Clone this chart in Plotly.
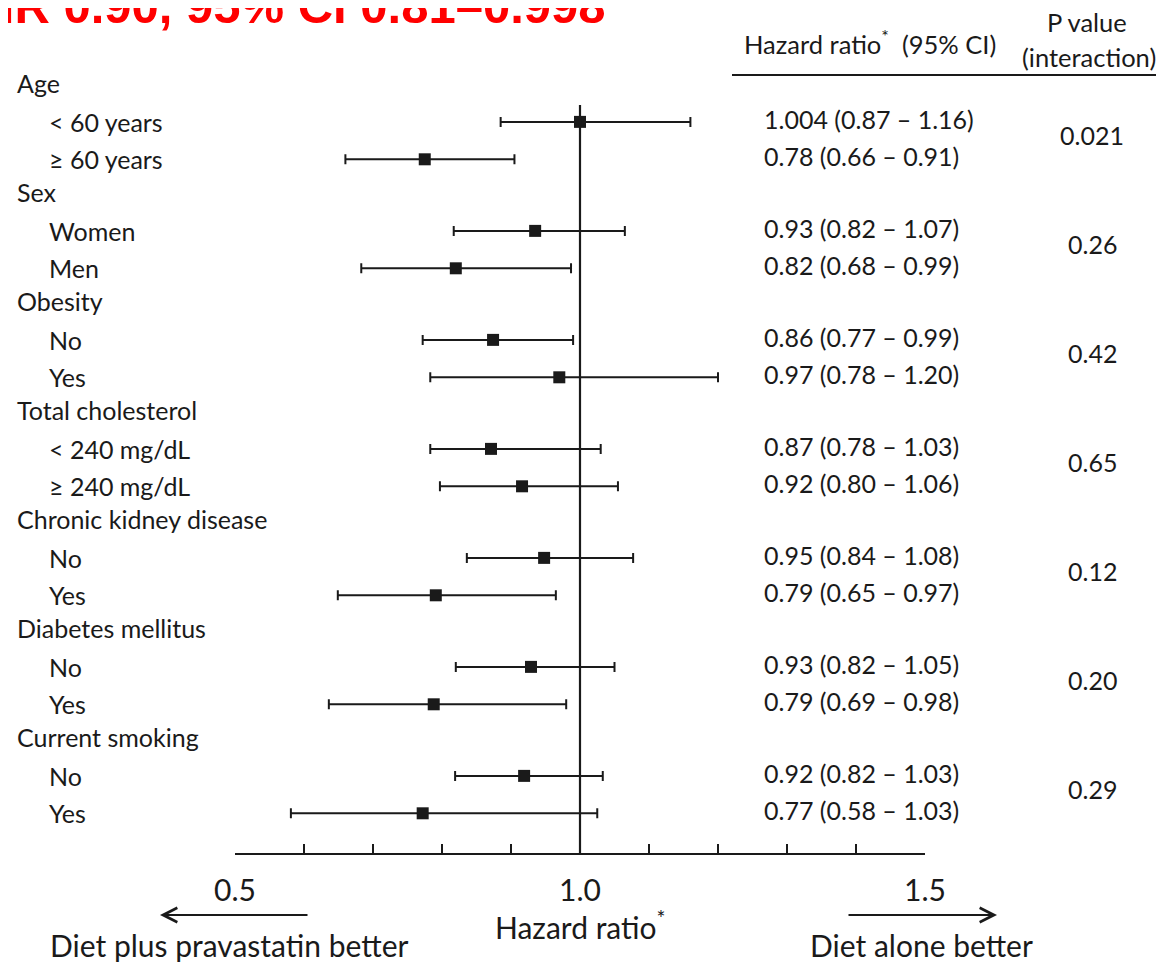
import plotly.graph_objects as go

# ---------------- data ----------------
groups = ["Age", "Sex", "Obesity", "Total cholesterol",
          "Chronic kidney disease", "Diabetes mellitus", "Current smoking"]
subgroups = [["< 60 years", "\u2265 60 years"],
             ["Women", "Men"],
             ["No", "Yes"],
             ["< 240 mg/dL", "\u2265 240 mg/dL"],
             ["No", "Yes"],
             ["No", "Yes"],
             ["No", "Yes"]]
hr = [1.00, 0.775, 0.935, 0.82, 0.874, 0.97, 0.871, 0.916,
      0.948, 0.791, 0.929, 0.788, 0.919, 0.772]
ci_lo = [0.885, 0.66, 0.817, 0.683, 0.772, 0.783, 0.783, 0.797,
         0.836, 0.649, 0.82, 0.636, 0.819, 0.581]
ci_hi = [1.16, 0.905, 1.065, 0.987, 0.99, 1.20, 1.03, 1.055,
         1.077, 0.965, 1.05, 0.98, 1.033, 1.025]
hr_text = ["1.004 (0.87 \u2013 1.16)", "0.78 (0.66 \u2013 0.91)",
           "0.93 (0.82 \u2013 1.07)", "0.82 (0.68 \u2013 0.99)",
           "0.86 (0.77 \u2013 0.99)", "0.97 (0.78 \u2013 1.20)",
           "0.87 (0.78 \u2013 1.03)", "0.92 (0.80 \u2013 1.06)",
           "0.95 (0.84 \u2013 1.08)", "0.79 (0.65 \u2013 0.97)",
           "0.93 (0.82 \u2013 1.05)", "0.79 (0.69 \u2013 0.98)",
           "0.92 (0.82 \u2013 1.03)", "0.77 (0.58 \u2013 1.03)"]
p_values = ["0.021", "0.26", "0.42", "0.65", "0.12", "0.20", "0.29"]
tick_vals = [0.5, 0.6, 0.7, 0.8, 0.9, 1.0, 1.1, 1.2, 1.3, 1.4, 1.5]
tick_text = ["0.5", "", "", "", "", "1.0", "", "", "", "", "1.5"]
title_text = "HR 0.90, 95% CI 0.81\u20130.998"

# ---------------- layout geometry (screen pixels) ----------------
OFF = 8                    # page body margin offset
W, H = 1164 - OFF, 962 - OFF
PLOT_BOTTOM = 853          # screen row of x-axis line
ROW = 109 / 3.0            # pixels per row unit
HEAD0 = 83                 # screen row of first header
y_top = (OFF - HEAD0) / ROW
y_bot = (PLOT_BOTTOM - HEAD0) / ROW
ITEM_OFF = [1.07, 2.10]
PH = PLOT_BOTTOM - OFF     # plot-area height in figure pixels


def px(xs):   # paper x from screen pixel
    return (xs - OFF) / W


def py(ys):   # paper y from screen pixel
    return 1 - (ys - OFF) / PH


item_y = []
for g in range(len(groups)):
    for k in range(2):
        item_y.append(3 * g + ITEM_OFF[k])

ink = "#1a1a1a"
font_body = "Lato, Carlito, 'Open Sans', sans-serif"

fig = go.Figure()
fig.add_trace(go.Scatter(
    x=hr, y=item_y, mode="markers",
    marker=dict(symbol="square", size=12, color=ink),
    error_x=dict(type="data", symmetric=False,
                 array=[h - m for h, m in zip(ci_hi, hr)],
                 arrayminus=[m - l for m, l in zip(hr, ci_lo)],
                 color=ink, thickness=2, width=5),
    showlegend=False, hoverinfo="x+y", cliponaxis=False))

# vertical reference line at HR = 1
fig.add_shape(type="line", xref="x", yref="y", x0=1.0, x1=1.0,
              y0=(105 - HEAD0) / ROW, y1=y_bot,
              line=dict(color=ink, width=2.2))

# header underline
fig.add_shape(type="line", xref="paper", yref="paper",
              x0=px(732), x1=px(1164), y0=py(75), y1=py(75),
              line=dict(color=ink, width=2))

ann = []
BODY = 25
HEAD = 25.5
for g, name in enumerate(groups):
    ann.append(dict(x=px(15), y=3 * g, xref="paper", yref="y", text=name,
                    xanchor="left", yanchor="middle", showarrow=False,
                    font=dict(family=font_body, size=BODY, color=ink)))
    for k in range(2):
        ann.append(dict(x=px(47), y=3 * g + ITEM_OFF[k], xref="paper", yref="y",
                        text=subgroups[g][k], xanchor="left", yanchor="middle",
                        showarrow=False,
                        font=dict(family=font_body, size=BODY, color=ink)))
    ann.append(dict(x=px(1092), y=3 * g + (ITEM_OFF[0] + ITEM_OFF[1]) / 2 - 0.15,
                    xref="paper", yref="y", text=p_values[g],
                    xanchor="center", yanchor="middle", showarrow=False,
                    font=dict(family=font_body, size=BODY, color=ink)))

for i, t in enumerate(hr_text):
    ann.append(dict(x=px(762), y=item_y[i] - 0.08, xref="paper", yref="y", text=t,
                    xanchor="left", yanchor="middle", showarrow=False,
                    font=dict(family=font_body, size=BODY, color=ink)))

# column headers
ann.append(dict(x=px(742), y=py(42), xref="paper", yref="paper",
                text="Hazard ratio<sup>*</sup>\u00a0\u00a0(95% CI)", xanchor="left",
                yanchor="middle", showarrow=False,
                font=dict(family=font_body, size=HEAD, color=ink)))
ann.append(dict(x=px(1087), y=py(22), xref="paper", yref="paper",
                text="P value", xanchor="center", yanchor="middle",
                showarrow=False, font=dict(family=font_body, size=HEAD, color=ink)))
ann.append(dict(x=px(1089), y=py(57), xref="paper", yref="paper",
                text="(interaction)", xanchor="center", yanchor="middle",
                showarrow=False, font=dict(family=font_body, size=HEAD, color=ink)))

# title (partly cut off at top-left, as in the reference)
ann.append(dict(x=px(-23), y=py(6), xref="paper", yref="paper",
                text="<b>" + title_text + "</b>", xanchor="left", yanchor="middle",
                showarrow=False,
                font=dict(family="'Liberation Sans', Arial, sans-serif",
                          size=49, color="#ff0000")))

# bottom labels
BOT = 30
ann.append(dict(x=1.0, y=py(925), xref="x", yref="paper",
                text="Hazard ratio<sup>*</sup>", xanchor="center", yanchor="middle",
                showarrow=False, font=dict(family=font_body, size=BOT, color=ink)))
ann.append(dict(x=px(229), y=py(945), xref="paper", yref="paper",
                text="Diet plus pravastatin better", xanchor="center",
                yanchor="middle", showarrow=False,
                font=dict(family=font_body, size=BOT, color=ink)))
ann.append(dict(x=px(921), y=py(945), xref="paper", yref="paper",
                text="Diet alone better", xanchor="center", yanchor="middle",
                showarrow=False, font=dict(family=font_body, size=BOT, color=ink)))
# arrows
ann.append(dict(x=px(160), y=py(915), xref="paper", yref="paper", text="",
                showarrow=True, ax=149, ay=0, arrowhead=5, arrowsize=1.4,
                arrowwidth=2, arrowcolor=ink))
ann.append(dict(x=px(997), y=py(915), xref="paper", yref="paper", text="",
                showarrow=True, ax=-150, ay=0, arrowhead=5, arrowsize=1.4,
                arrowwidth=2, arrowcolor=ink))

fig.update_layout(
    width=W, height=H,
    margin=dict(l=0, r=0, t=0, b=H - PH, pad=0, autoexpand=False),
    paper_bgcolor="white", plot_bgcolor="white",
    annotations=ann,
    xaxis=dict(domain=[px(235), px(925)], range=[0.5, 1.5],
               tickvals=tick_vals, ticktext=tick_text,
               ticks="inside", ticklen=9, tickwidth=2, tickcolor=ink,
               showline=True, linecolor=ink, linewidth=2,
               showgrid=False, zeroline=False, fixedrange=True,
               automargin=False,
               tickfont=dict(family=font_body, size=BOT, color=ink),
               ticklabelstandoff=10),
    yaxis=dict(range=[y_bot, y_top], visible=False, showgrid=False,
               zeroline=False, fixedrange=True, automargin=False),
)

fig.write_html("out.html")
